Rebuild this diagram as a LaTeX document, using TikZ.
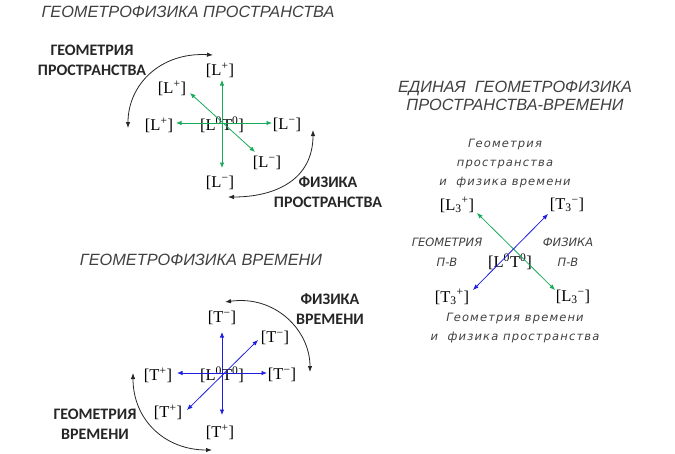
\documentclass[tikz,border=0pt]{standalone}
\usepackage{fontspec}
\setmainfont{Liberation Serif}
\newfontfamily\ttlfont{Liberation Sans}
\newfontfamily\notefont[LetterSpace=10]{DejaVu Sans}
\newfontfamily\capsfont{DejaVu Sans}
\newfontfamily\lblfont{Carlito}
\usetikzlibrary{arrows.meta}
\definecolor{lgreen}{RGB}{25,170,90}
\definecolor{tblue}{RGB}{30,30,225}

\begin{document}
\begin{tikzpicture}[
  x=1pt,y=-1pt,
  ttl/.style={font=\ttlfont\itshape\fontsize{16.3}{18}\selectfont, text=black!75},
  zone/.style={font=\lblfont\bfseries\fontsize{16}{20}\selectfont, align=center, text=black!85},
  note/.style={font=\notefont\itshape\fontsize{11.5}{19}\selectfont, align=center, text=black!75},
  pv/.style={font=\capsfont\itshape\fontsize{11.5}{20}\selectfont, align=center, text=black!75},
  sym/.style={font=\fontsize{16.5}{18}\selectfont, inner sep=1pt},
  garrow/.style={lgreen, thick, {Latex[length=5.5pt,width=4.5pt]}-{Latex[length=5.5pt,width=4.5pt]}},
  barrow/.style={tblue, thick, {Latex[length=5.5pt,width=4.5pt]}-{Latex[length=5.5pt,width=4.5pt]}},
  turn/.style={black!85, thick, {Latex[length=6pt,width=4.5pt]}-{Latex[length=6pt,width=4.5pt]}}
]
\useasboundingbox (0,0) rectangle (675,453);

\node[ttl] (t1) at (188,12) {ГЕОМЕТРОФИЗИКА ПРОСТРАНСТВА};
\node[ttl] (t2) at (201,260) {ГЕОМЕТРОФИЗИКА ВРЕМЕНИ};
\node[ttl, align=center] (t3) at (515,96) {ЕДИНАЯ\ \ ГЕОМЕТРОФИЗИКА\\ПРОСТРАНСТВА-ВРЕМЕНИ};

% space
\node[sym] (c1) at (222,125) {[L\textsuperscript{0}T\textsuperscript{0}]};
\node[sym] (l1) at (220,70) {[L\textsuperscript{+}]};
\node[sym] (l2) at (159,125) {[L\textsuperscript{+}]};
\node[sym] (l3) at (172,88) {[L\textsuperscript{+}]};
\node[sym] (l4) at (287,125) {[L\textsuperscript{−}]};
\node[sym] (l5) at (267,163) {[L\textsuperscript{−}]};
\node[sym] (l6) at (220,183) {[L\textsuperscript{−}]};
\coordinate (a1n) at (222,80);
\coordinate (a1s) at (222,168);
\coordinate (a1w) at (176,123);
\coordinate (a1e) at (272,123);
\coordinate (a1nw) at (190,93);
\coordinate (a1se) at (255,152);
\draw[garrow] (a1n) -- (a1s);
\draw[garrow] (a1w) -- (a1e);
\draw[garrow] (a1nw) -- (a1se);

\node[zone] (g1) at (92,60) {ГЕОМЕТРИЯ\\ПРОСТРАНСТВА};
\node[zone] (f1) at (328,192) {ФИЗИКА\\ПРОСТРАНСТВА};
\coordinate (r1a) at (213,55);
\coordinate (r1b) at (128,128);
\coordinate (r1c) at (313,130);
\coordinate (r1d) at (228,197);
\draw[turn] (r1a) .. controls (160,52) and (128,85) .. (r1b);
\draw[turn] (r1c) .. controls (313,180) and (275,197) .. (r1d);

% time
\node[sym] (c2) at (222,375) {[L\textsuperscript{0}T\textsuperscript{0}]};
\node[sym] (m1) at (222,318) {[T\textsuperscript{−}]};
\node[sym] (m2) at (275,338) {[T\textsuperscript{−}]};
\node[sym] (m3) at (282,375) {[T\textsuperscript{−}]};
\node[sym] (m4) at (158,375) {[T\textsuperscript{+}]};
\node[sym] (m5) at (168,412) {[T\textsuperscript{+}]};
\node[sym] (m6) at (220,432) {[T\textsuperscript{+}]};
\coordinate (a2n) at (222,332);
\coordinate (a2s) at (222,415);
\coordinate (a2w) at (177,373);
\coordinate (a2e) at (267,373);
\coordinate (a2ne) at (258,340);
\coordinate (a2sw) at (187,410);
\draw[barrow] (a2n) -- (a2s);
\draw[barrow] (a2w) -- (a2e);
\draw[barrow] (a2ne) -- (a2sw);

\node[zone] (f2) at (330,309) {ФИЗИКА\\ВРЕМЕНИ};
\node[zone] (g2) at (95,424) {ГЕОМЕТРИЯ\\ВРЕМЕНИ};
\coordinate (r2a) at (225,302);
\coordinate (r2b) at (310,372);
\coordinate (r2c) at (133,373);
\coordinate (r2d) at (212,450);
\draw[turn] (r2a) .. controls (275,295) and (310,330) .. (r2b);
\draw[turn] (r2c) .. controls (133,420) and (165,450) .. (r2d);

% space-time
\node[note] (n1) at (505,164) {Геометрия\\пространства\\и\ \ физика времени};
\node[note] (n2) at (515,328) {Геометрия времени\\и\ \ физика пространства};
\node[pv] (n3) at (447,252) {ГЕОМЕТРИЯ\\П-В};
\node[pv] (n4) at (568,252) {ФИЗИКА\\П-В};
\node[sym] (c3) at (510,262) {[L\textsuperscript{0}T\textsuperscript{0}]};
\node[sym] (k1) at (457,205) {[L\textsubscript{3}\textsuperscript{+}]};
\node[sym] (k2) at (567,205) {[T\textsubscript{3}\textsuperscript{−}]};
\node[sym] (k3) at (452,297) {[T\textsubscript{3}\textsuperscript{+}]};
\node[sym] (k4) at (573,297) {[L\textsubscript{3}\textsuperscript{−}]};
\coordinate (a3nw) at (477,213);
\coordinate (a3se) at (555,290);
\coordinate (a3ne) at (548,214);
\coordinate (a3sw) at (473,290);
\draw[garrow] (a3nw) -- (a3se);
\draw[barrow] (a3ne) -- (a3sw);
\end{tikzpicture}
\end{document}
